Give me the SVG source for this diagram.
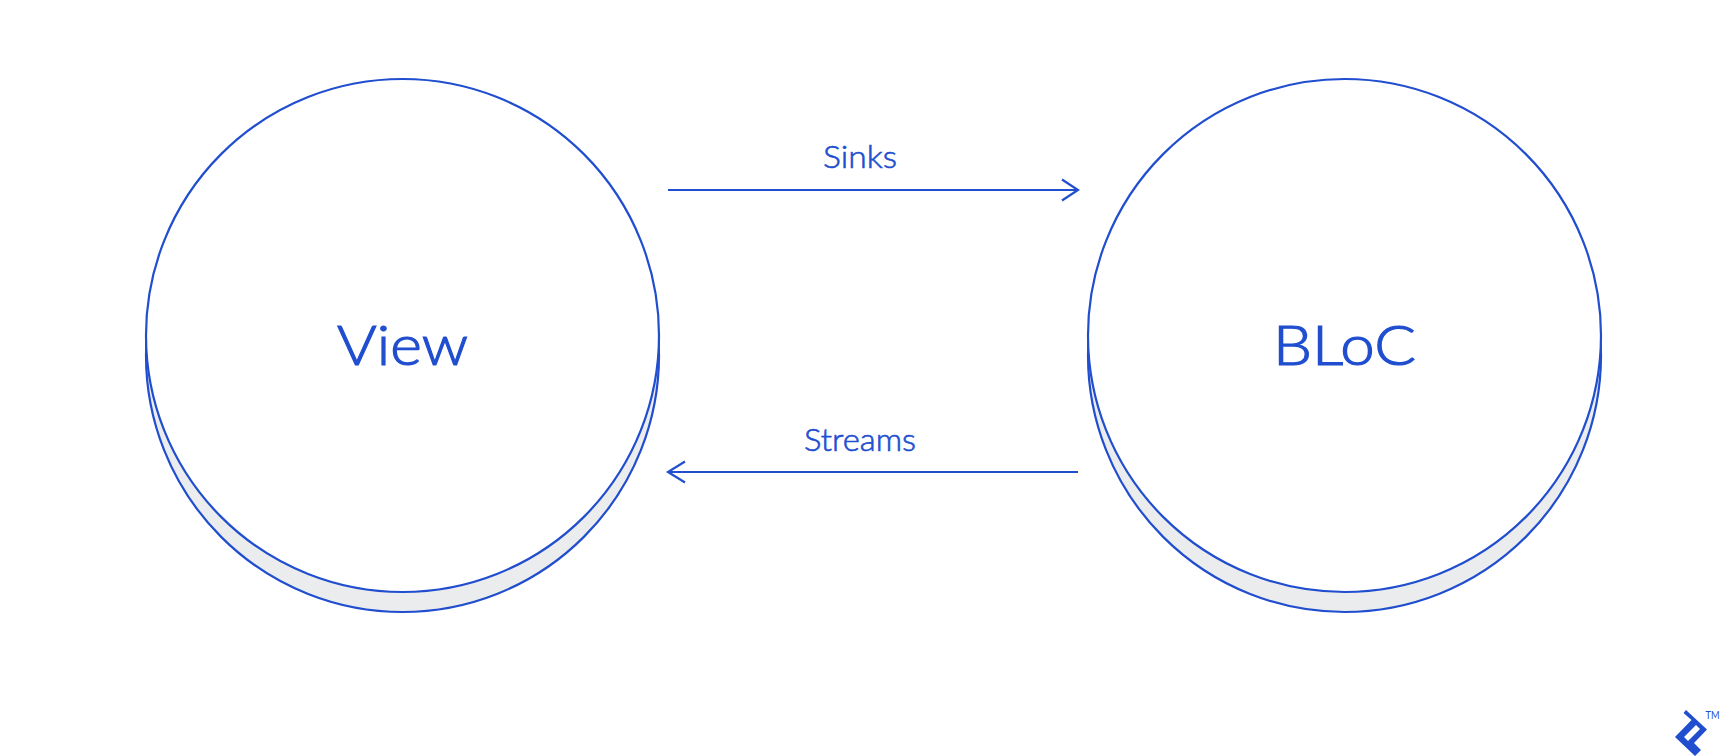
<svg xmlns="http://www.w3.org/2000/svg" width="1720" height="756" viewBox="0 0 1720 756">
<style>
.back{fill:#ebeced;stroke:#204ecf;stroke-width:2.2}
.front{fill:#fff;stroke:#204ecf;stroke-width:2.2}
.big{font-family:"Lato","Noto Sans",sans-serif;font-size:56px;font-weight:300;fill:#204ecf;stroke:#204ecf;stroke-width:1.2}
.small{font-family:"Lato","Noto Sans",sans-serif;font-size:31px;font-weight:300;fill:#204ecf;stroke:#204ecf;stroke-width:.6}
.conn{fill:none;stroke:#204ecf;stroke-width:2.2}
</style>
<rect width="1720" height="756" fill="#fff"/>
<g id="node-view">
<circle class="back" cx="402.500" cy="355.500" r="256.500"/>
<circle class="front" cx="402.500" cy="335.500" r="256.500"/>
<text class="big" x="337" y="365" textLength="131" lengthAdjust="spacingAndGlyphs">View</text>
</g>
<g id="node-bloc">
<circle class="back" cx="1344.500" cy="355.500" r="256.500"/>
<circle class="front" cx="1344.500" cy="335.500" r="256.500"/>
<text class="big" x="1273" y="365" textLength="143" lengthAdjust="spacingAndGlyphs">BLoC</text>
</g>
<g id="connectors">
<path class="conn" d="M668 190H1078M1062 179.500L1078 190L1062 200.500"/>
<path class="conn" d="M1078 472H668M685 461.500L668 472L685 482.500"/>
</g>
<g id="label-sinks"><text class="small" x="823" y="167.500" textLength="74" lengthAdjust="spacingAndGlyphs">Sinks</text></g>
<g id="label-streams"><text class="small" x="804" y="450.500" textLength="112" lengthAdjust="spacingAndGlyphs">Streams</text></g>
<g id="logo">
<path fill="#204ecf" fill-rule="evenodd" d="M1686 710L1707 729.500L1694 743L1701 750L1695 756L1675 737L1691.500 720L1683.500 713ZM1684 737L1688 741L1700 729L1696 725Z"/>
<text x="1705.500" y="719" font-family="Lato,sans-serif" font-size="11" fill="#204ecf" textLength="14" lengthAdjust="spacingAndGlyphs">TM</text>
</g>
</svg>
